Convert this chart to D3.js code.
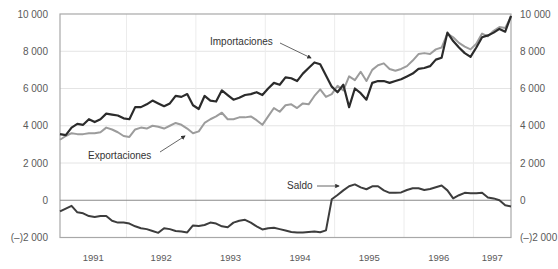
<!DOCTYPE html>
<html>
<head>
<meta charset="utf-8">
<script src="https://cdn.jsdelivr.net/npm/d3@7"></script>
<style>
  body { margin: 0; background: #fff; }
  svg { display: block; font-family: "Liberation Sans", Arial, sans-serif; }
</style>
</head>
<body>
<div id="chart"></div>
<script>
// Monthly series, Jan 1991 - Jul 1997 (millions)
var years = [1991, 1992, 1993, 1994, 1995, 1996, 1997]
var yTicks = [-2000, 0, 2000, 4000, 6000, 8000, 10000]
var yTickLabels = ["(\u2013)2 000", "0", "2 000", "4 000", "6 000", "8 000", "10 000"]

var importaciones = [
  3550, 3500, 3900, 4100, 4050, 4350, 4200, 4350, 4650, 4600, 4550, 4400,
  4350, 5000, 5000, 5150, 5350, 5200, 5050, 5200, 5600, 5550, 5700, 5100,
  4900, 5600, 5350, 5300, 5900, 5650, 5400, 5500, 5650, 5700, 5800, 5650,
  6000, 6300, 6200, 6600, 6550, 6400, 6800, 7100, 7400, 7300, 6700, 6100,
  5800, 6200, 5000, 6000, 5750, 5400, 6300, 6400, 6400, 6300, 6400, 6500,
  6650, 6800, 7050, 7100, 7200, 7550, 7650, 9000, 8550, 8200, 7900, 7700,
  8200, 8750, 8850, 9000, 9200, 9050, 9900
]
var exportaciones = [
  3250, 3450, 3600, 3550, 3550, 3600, 3600, 3650, 3900, 3800, 3650, 3450,
  3400, 3800, 3900, 3850, 4000, 3950, 3850, 4000, 4150, 4050, 3850, 3600,
  3700, 4150, 4350, 4500, 4700, 4350, 4350, 4450, 4450, 4500, 4300, 4050,
  4500, 4950, 4750, 5100, 5150, 4950, 5200, 5150, 5600, 5950, 5550, 5700,
  6150, 5900, 6650, 6450, 6900, 6400, 7000, 7250, 7350, 7050, 6950, 7050,
  7200, 7500, 7850, 7900, 7850, 8100, 8200, 8950, 8750, 8450, 8250, 8100,
  8400, 8950, 8800, 9100, 9300, 9250, 9850
]
var saldo = [
  -600, -450, -300, -650, -700, -850, -900, -850, -850, -1100, -1200, -1200,
  -1250, -1400, -1500, -1550, -1650, -1750, -1500, -1550, -1650, -1680, -1730, -1350,
  -1380, -1330, -1200, -1250, -1400, -1450, -1200, -1100, -1050, -1200, -1400, -1570,
  -1500, -1480, -1550, -1620, -1700, -1730, -1730, -1700, -1680, -1720, -1620, 50,
  280, 530, 750, 850, 690, 590, 750, 750, 530, 400, 400, 420,
  550, 640, 640, 550, 600, 700, 790, 530, 100, 270, 400, 380,
  380, 400, 150, 100, 0, -270, -330
]

var width = 558, height = 269
var margin = {left: 60, right: 47, top: 14, bottom: 31}

var svg = d3.select("#chart").append("svg")
  .attr("width", width).attr("height", height)

var n = importaciones.length
var x = d3.scaleLinear().domain([0, n - 1]).range([margin.left, width - margin.right])
var y = d3.scaleLinear().domain([-2000, 10000]).range([height - margin.bottom - 0.5, margin.top])

var x0 = margin.left, x1 = width - margin.right

// gridlines
svg.append("g").selectAll("line")
  .data(yTicks.filter(d => d > 0 && d < 10000))
  .enter().append("line")
  .attr("x1", x0).attr("x2", x1)
  .attr("y1", d => y(d)).attr("y2", d => y(d))
  .attr("stroke", "#e4e4e4").attr("stroke-width", 1)

var yearBounds = years.slice(1).map((yr, i) => (i + 1) * 12 - 0.5)
svg.append("g").selectAll("line")
  .data(yearBounds)
  .enter().append("line")
  .attr("x1", d => x(d)).attr("x2", d => x(d))
  .attr("y1", margin.top).attr("y2", y(-2000))
  .attr("stroke", "#ececec").attr("stroke-width", 1)

// frame
svg.append("rect")
  .attr("x", x0).attr("y", margin.top)
  .attr("width", x1 - x0).attr("height", y(-2000) - margin.top)
  .attr("fill", "none").attr("stroke", "#a8a8a8").attr("stroke-width", 1.2)

// zero line
svg.append("line")
  .attr("x1", x0).attr("x2", x1).attr("y1", y(0)).attr("y2", y(0))
  .attr("stroke", "#8a8a8a").attr("stroke-width", 1.2)

// axes labels
var yAxisLeft = d3.axisLeft(y).tickValues(yTicks).tickSize(0).tickPadding(12)
  .tickFormat((d, i) => yTickLabels[i])
var yAxisRight = d3.axisRight(y).tickValues(yTicks).tickSize(0).tickPadding(9)
  .tickFormat((d, i) => yTickLabels[i])

svg.append("g").attr("transform", "translate(" + x0 + ",0)").call(yAxisLeft)
svg.append("g").attr("transform", "translate(" + x1 + ",0)").call(yAxisRight)
svg.selectAll(".domain").remove()
svg.selectAll(".tick text").attr("font-size", 10).attr("fill", "#5a5a5a")
  .attr("font-family", "'Liberation Sans', Arial, sans-serif")

// year labels centred in each (visible) year
svg.append("g").selectAll("text")
  .data(years)
  .enter().append("text")
  .attr("x", (d, i) => {
    var a = Math.max(0, i * 12 - 0.5), b = Math.min(n - 1, i * 12 + 11.5)
    return (x(a) + x(b)) / 2
  })
  .attr("y", 261)
  .attr("text-anchor", "middle")
  .attr("font-size", 9.5).attr("fill", "#5a5a5a")
  .text(d => d)

// lines
var line = d3.line().x((d, i) => x(i)).y(d => y(d))

svg.append("path").datum(exportaciones).attr("d", line)
  .attr("fill", "none").attr("stroke", "#9c9c9c").attr("stroke-width", 2)
  .attr("stroke-linejoin", "round")
svg.append("path").datum(importaciones).attr("d", line)
  .attr("fill", "none").attr("stroke", "#2b2b2b").attr("stroke-width", 2.2)
  .attr("stroke-linejoin", "round")
svg.append("path").datum(saldo).attr("d", line)
  .attr("fill", "none").attr("stroke", "#3d3d3d").attr("stroke-width", 2)
  .attr("stroke-linejoin", "round")

// annotations
svg.append("defs").append("marker")
  .attr("id", "arr").attr("viewBox", "0 0 6 6").attr("refX", 5).attr("refY", 3)
  .attr("markerWidth", 5).attr("markerHeight", 5).attr("orient", "auto")
  .append("path").attr("d", "M0,0 L6,3 L0,6 Z").attr("fill", "#333")

function note(label, tx, ty, ax0, ay0, ax1, ay1) {
  svg.append("text").attr("x", tx).attr("y", ty)
    .attr("font-size", 10).attr("fill", "#333").text(label)
  svg.append("line")
    .attr("x1", ax0).attr("y1", ay0).attr("x2", ax1).attr("y2", ay1)
    .attr("stroke", "#555").attr("stroke-width", 0.9)
    .attr("marker-end", "url(#arr)")
}

note("Importaciones", 210, 45, 280, 43, 311, 58)
note("Exportaciones", 88, 159, 160, 152, 185, 136)
note("Saldo", 287, 189, 317, 186, 339, 186)
</script>
</body>
</html>
